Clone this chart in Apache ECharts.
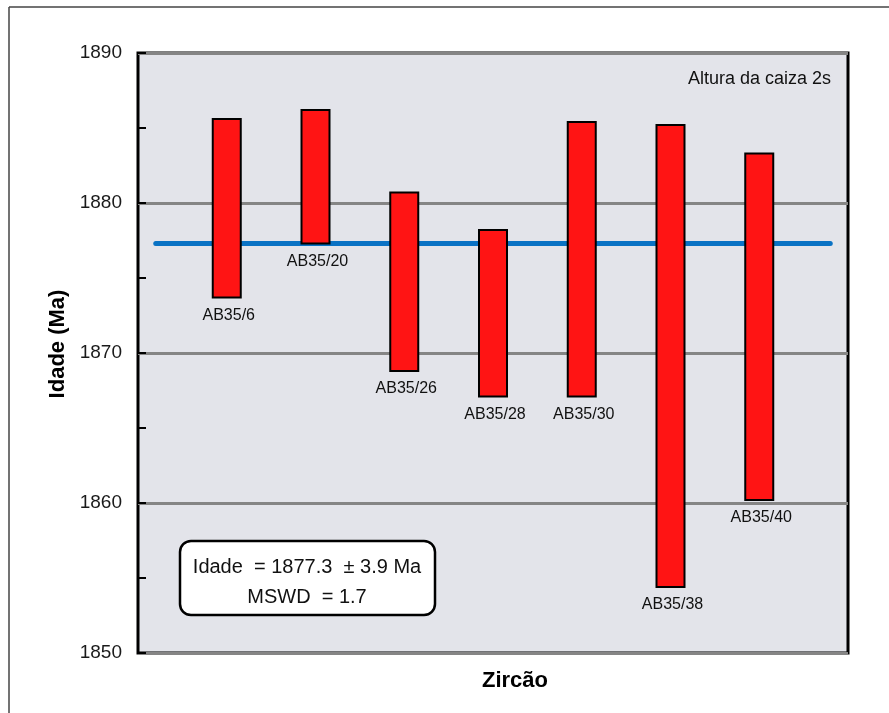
<!DOCTYPE html>
<html>
<head>
<meta charset="utf-8">
<script src="https://cdn.jsdelivr.net/npm/echarts@6/dist/echarts.min.js"></script>
<style>
  html, body { margin: 0; padding: 0; background: #fff; }
  #chart { width: 889px; height: 713px; }
</style>
</head>
<body>
<div id="chart"></div>
<script>
// Zircon spot ages (Ma): top and bottom of each 2-sigma box
const grains = ['AB35/6', 'AB35/20', 'AB35/26', 'AB35/28', 'AB35/30', 'AB35/38', 'AB35/40'];
const boxTop = [1885.6, 1886.2, 1880.7, 1878.2, 1885.4, 1885.2, 1883.3];
const boxBottom = [1873.7, 1877.3, 1868.8, 1867.1, 1867.1, 1854.4, 1860.2];

// Weighted mean result
const meanAge = 1877.3;
const meanErr = 3.9;
const mswd = 1.7;
const meanLineSpan = [0.2, 7.8];

// Y axis range and tick step
const yMin = 1850;
const yMax = 1890;
const yStep = 10;

const FONT = "'Liberation Sans', Arial, sans-serif";

const boxData = grains.map((g, i) => [i + 1, boxTop[i], boxBottom[i]]);

const chart = echarts.init(document.getElementById('chart'));

chart.setOption({
  backgroundColor: '#ffffff',
  animation: false,
  grid: {
    left: 138, right: 41, top: 53, bottom: 60,
    show: true,
    backgroundColor: '#e3e4ea',
    borderColor: '#000000',
    borderWidth: 3,
    z: 0
  },
  xAxis: {
    type: 'value',
    min: 0,
    max: grains.length + 1,
    axisLine: { show: false },
    axisTick: { show: false },
    axisLabel: { show: false },
    splitLine: { show: false }
  },
  yAxis: {
    type: 'value',
    min: yMin,
    max: yMax,
    interval: yStep,
    axisLine: { show: false },
    axisTick: { show: true, inside: true, length: 8, lineStyle: { color: '#000', width: 2 } },
    minorTick: { show: true, splitNumber: 2, length: 8, lineStyle: { color: '#000', width: 2 } },
    axisLabel: { fontFamily: FONT, fontSize: 19, color: '#1a1a1a', margin: 16, formatter: (v) => String(v) },
    splitLine: { show: true, lineStyle: { color: '#858585', width: 3 } }
  },
  series: [
    {
      type: 'line',
      data: [[meanLineSpan[0], meanAge], [meanLineSpan[1], meanAge]],
      symbol: 'none',
      lineStyle: { color: '#0a72c4', width: 5, cap: 'round' },
      z: 3,
      silent: true
    },
    {
      type: 'custom',
      data: boxData,
      z: 5,
      renderItem: function (params, api) {
        const x = api.value(0);
        const p1 = api.coord([x, api.value(1)]);
        const p2 = api.coord([x, api.value(2)]);
        const w = 28;
        return {
          type: 'group',
          children: [
            {
              type: 'rect',
              shape: { x: p1[0] - w / 2, y: p1[1], width: w, height: p2[1] - p1[1] },
              style: { fill: '#ff1414', stroke: '#000', lineWidth: 2 }
            },
            {
              type: 'text',
              x: p2[0] + 2,
              y: p2[1] + 10,
              style: {
                text: grains[params.dataIndex],
                fontFamily: FONT,
                fontSize: 16,
                fill: '#111',
                align: 'center',
                verticalAlign: 'top'
              }
            }
          ]
        };
      }
    }
  ],
  graphic: [
    { type: 'line', shape: { x1: 9, y1: 7, x2: 889, y2: 7 }, style: { stroke: '#444', lineWidth: 1.5 } },
    { type: 'line', shape: { x1: 9, y1: 7, x2: 9, y2: 713 }, style: { stroke: '#444', lineWidth: 1.5 } },
    {
      type: 'text', x: 831, y: 79,
      style: { text: 'Altura da caiza 2s', fontFamily: FONT, fontSize: 18, fill: '#111', align: 'right', verticalAlign: 'middle' },
      z: 10
    },
    {
      type: 'text', x: 58, y: 344, rotation: Math.PI / 2,
      style: { text: 'Idade (Ma)', fontFamily: FONT, fontSize: 22, fontWeight: 'bold', fill: '#000', align: 'center', verticalAlign: 'middle' }
    },
    {
      type: 'text', x: 515, y: 681,
      style: { text: 'Zircão', fontFamily: FONT, fontSize: 22, fontWeight: 'bold', fill: '#000', align: 'center', verticalAlign: 'middle' }
    },
    {
      type: 'group', z: 10,
      children: [
        { type: 'rect', shape: { x: 180, y: 541, width: 255, height: 74, r: 11 }, style: { fill: '#fff', stroke: '#000', lineWidth: 2.5 } },
        {
          type: 'text', x: 307, y: 567,
          style: { text: 'Idade  = ' + meanAge.toFixed(1) + '  ± ' + meanErr.toFixed(1) + ' Ma', fontFamily: FONT, fontSize: 20, fill: '#111', align: 'center', verticalAlign: 'middle' }
        },
        {
          type: 'text', x: 307, y: 597,
          style: { text: 'MSWD  = ' + mswd.toFixed(1), fontFamily: FONT, fontSize: 20, fill: '#111', align: 'center', verticalAlign: 'middle' }
        }
      ]
    }
  ]
});
</script>
</body>
</html>
